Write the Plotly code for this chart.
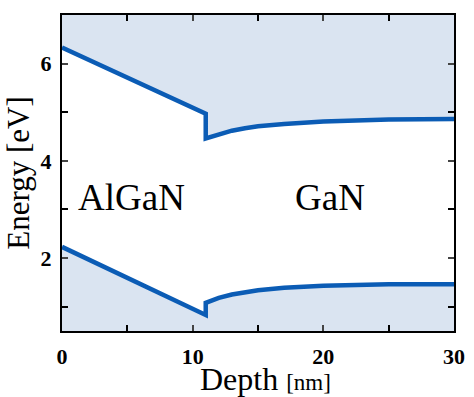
import plotly.graph_objects as go

# Conduction band (upper) and valence band (lower) profiles
depth_cb = [0, 11, 11, 12, 13, 14, 15, 17, 20, 25, 30]
energy_cb = [6.33, 4.97, 4.46, 4.55, 4.62, 4.67, 4.71, 4.76, 4.81, 4.85, 4.86]
depth_vb = [0, 11, 11, 12, 13, 14, 15, 17, 20, 25, 30]
energy_vb = [2.23, 0.83, 1.08, 1.18, 1.25, 1.30, 1.34, 1.39, 1.43, 1.46, 1.46]
x_range = [0, 30]
y_range = [0.5, 7]
x_ticks = [0, 10, 20, 30]
y_ticks = [2, 4, 6]
region_labels = ["AlGaN", "GaN"]
region_x = [5.3, 20.5]
region_y = [3.25, 3.25]

line_color = "#0b5cb5"
fill_color = "rgba(214,225,240,0.9)"

fig = go.Figure()
fig.add_trace(go.Scatter(x=x_range, y=[y_range[1], y_range[1]], mode="lines",
                         line=dict(width=0), showlegend=False, hoverinfo="skip"))
fig.add_trace(go.Scatter(x=depth_cb, y=energy_cb, mode="lines", fill="tonexty",
                         fillcolor=fill_color, line=dict(color=line_color, width=4.5),
                         showlegend=False))
fig.add_trace(go.Scatter(x=depth_vb, y=energy_vb, mode="lines", fill="tozeroy",
                         fillcolor=fill_color, line=dict(color=line_color, width=4.5),
                         showlegend=False))

for t, xx, yy in zip(region_labels, region_x, region_y):
    fig.add_annotation(x=xx, y=yy, text=t, showarrow=False,
                       font=dict(family="Liberation Serif", size=37, color="black"))

# x-axis title as a paper annotation
fig.add_annotation(x=0.518, y=-0.152, xref="paper", yref="paper", xanchor="center",
                   yanchor="middle", showarrow=False,
                   text="Depth <span style='font-size:23px'>[nm]</span>",
                   font=dict(family="Liberation Serif", size=32, color="black"))

fig.update_xaxes(range=x_range, tickvals=x_ticks, ticks="inside", ticklen=6, tickwidth=2,
                 minor=dict(dtick=5, ticks="inside", ticklen=6, tickwidth=2, tickcolor="black"),
                 showline=True, linecolor="black", linewidth=2, mirror="allticks",
                 showgrid=False, zeroline=False, ticklabelstandoff=5, automargin=False,
                 tickfont=dict(family="Liberation Serif", size=22, color="black", weight="bold"))
fig.update_yaxes(range=y_range, tickvals=y_ticks, ticks="inside", ticklen=6, tickwidth=2,
                 minor=dict(dtick=1, ticks="inside", ticklen=6, tickwidth=2, tickcolor="black"),
                 showline=True, linecolor="black", linewidth=2, mirror="allticks",
                 showgrid=False, zeroline=False, ticklabelstandoff=4, automargin=False,
                 tickfont=dict(family="Liberation Serif", size=22, color="black", weight="bold"),
                 title=dict(text="Energy [eV]",
                            font=dict(family="Liberation Serif", size=31, color="black"),
                            standoff=2))
fig.update_layout(width=474, height=397, margin=dict(l=62, r=20, t=15, b=66),
                  plot_bgcolor="white", paper_bgcolor="white")
fig.write_html("out.html", config={"displayModeBar": False})

with open("out.html", encoding="utf-8") as f:
    html = f.read()
html = html.replace("<body>", "<body style=\"margin:0;overflow:hidden\">", 1)
with open("out.html", "w", encoding="utf-8") as f:
    f.write(html)
